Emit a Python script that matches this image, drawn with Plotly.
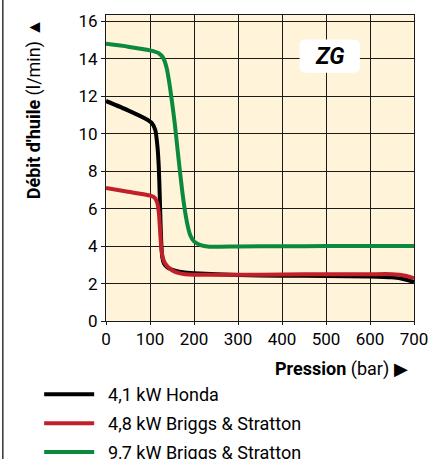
import plotly.graph_objects as go

# Data
honda_x = [0, 50, 90, 105, 112, 117, 120, 122, 124, 126, 128, 132, 140, 155, 175, 200, 300, 400, 500, 600, 650, 680, 700]
honda_y = [11.75, 11.25, 10.8, 10.55, 10.2, 9.3, 8.2, 6.8, 5.2, 4.0, 3.4, 3.05, 2.85, 2.7, 2.6, 2.55, 2.45, 2.42, 2.4, 2.38, 2.33, 2.22, 2.08]

briggs48_x = [0, 50, 100, 110, 116, 120, 123, 126, 130, 135, 145, 160, 180, 200, 300, 400, 500, 600, 650, 680, 700]
briggs48_y = [7.1, 6.9, 6.7, 6.6, 6.35, 5.8, 4.8, 3.8, 3.3, 3.05, 2.8, 2.6, 2.5, 2.47, 2.47, 2.48, 2.5, 2.5, 2.5, 2.42, 2.28]

briggs97_x = [0, 50, 100, 120, 130, 138, 144, 150, 156, 162, 168, 174, 180, 186, 192, 200, 215, 235, 260, 300, 400, 500, 600, 700]
briggs97_y = [14.8, 14.65, 14.45, 14.3, 14.05, 13.5, 12.7, 11.7, 10.6, 9.3, 8.0, 6.8, 5.8, 5.05, 4.55, 4.25, 4.05, 3.97, 3.97, 3.98, 3.99, 4.0, 4.0, 4.0]

series_names = ["4,1 kW Honda", "4,8 kW Briggs & Stratton", "9,7 kW Briggs & Stratton"]
series_colors = ["#000000", "#c1202a", "#0b8a3e"]

x_ticks = [0, 100, 200, 300, 400, 500, 600, 700]
y_ticks = [0, 2, 4, 6, 8, 10, 12, 14, 16]

FONT = "Roboto, Liberation Sans, sans-serif"

fig = go.Figure()
for i, (xs, ys, name, col) in enumerate(zip([honda_x, briggs48_x, briggs97_x],
                                            [honda_y, briggs48_y, briggs97_y],
                                            series_names, series_colors)):
    fig.add_trace(go.Scatter(x=xs, y=ys, mode="lines", name="&nbsp;&nbsp;" + name, legendgroup=f"g{i}",
                             line=dict(color=col, width=4, shape="spline", smoothing=0.6)))

# ZG label box (rounded rectangle)
x0, x1, y0, y1 = 440, 577, 13.26, 15.03
rx, ry = 14, 0.32
path = (f"M {x0+rx},{y0} L {x1-rx},{y0} Q {x1},{y0} {x1},{y0+ry} "
        f"L {x1},{y1-ry} Q {x1},{y1} {x1-rx},{y1} L {x0+rx},{y1} "
        f"Q {x0},{y1} {x0},{y1-ry} L {x0},{y0+ry} Q {x0},{y0} {x0+rx},{y0} Z")
fig.add_shape(type="path", path=path, xref="x", yref="y",
              fillcolor="white", line=dict(width=0), layer="above")
# left border line of figure
fig.add_shape(type="line", xref="paper", yref="paper", x0=-0.335, x1=-0.335, y0=-0.5, y1=1.06,
              line=dict(color="#333333", width=1.5))

fig.add_annotation(x=509, y=14.12, xref="x", yref="y", text="<b><i>ZG</i></b>",
                   showarrow=False, font=dict(family=FONT, size=23, color="black"))

fig.add_annotation(x=-0.233, y=0.693, xref="paper", yref="paper", textangle=-90,
                   xanchor="center", yanchor="middle",
                   text="<b>Débit d'huile</b> (l/min) ▲", showarrow=False,
                   font=dict(family=FONT, size=18, color="black"))
fig.add_annotation(x=0.987, y=-0.157, xref="paper", yref="paper", xanchor="right", yanchor="middle",
                   text="<b>Pression</b> (bar) ▶", showarrow=False,
                   font=dict(family=FONT, size=18, color="black"))

fig.update_layout(
    width=442, height=459,
    margin=dict(l=106, r=28, t=15, b=138, autoexpand=False),
    paper_bgcolor="white",
    plot_bgcolor="#fff3d9",
    font=dict(family=FONT, size=17, color="black"),
    showlegend=True,
    legend=dict(x=-0.217, y=-0.18, xanchor="left", yanchor="top",
                font=dict(family=FONT, size=18, color="black"),
                bgcolor="rgba(0,0,0,0)", itemwidth=50, tracegroupgap=2.5),
)
fig.update_xaxes(range=[0, 700], tickvals=x_ticks, showgrid=True, gridcolor="#1a1a1a", gridwidth=1,
                 showline=True, linecolor="#1a1a1a", linewidth=1, mirror=True,
                 ticks="outside", ticklen=3, tickcolor="#1a1a1a", zeroline=False, fixedrange=True)
fig.update_yaxes(range=[0, 16.34], tickvals=y_ticks, showgrid=True, gridcolor="#1a1a1a", gridwidth=1,
                 showline=True, linecolor="#1a1a1a", linewidth=1, mirror=True,
                 ticks="outside", ticklen=4, tickcolor="#1a1a1a", zeroline=False, fixedrange=True)

fig.write_html("out.html", config={"displayModeBar": False},
               post_script="document.body.style.margin='0';document.body.style.overflow='hidden';")
